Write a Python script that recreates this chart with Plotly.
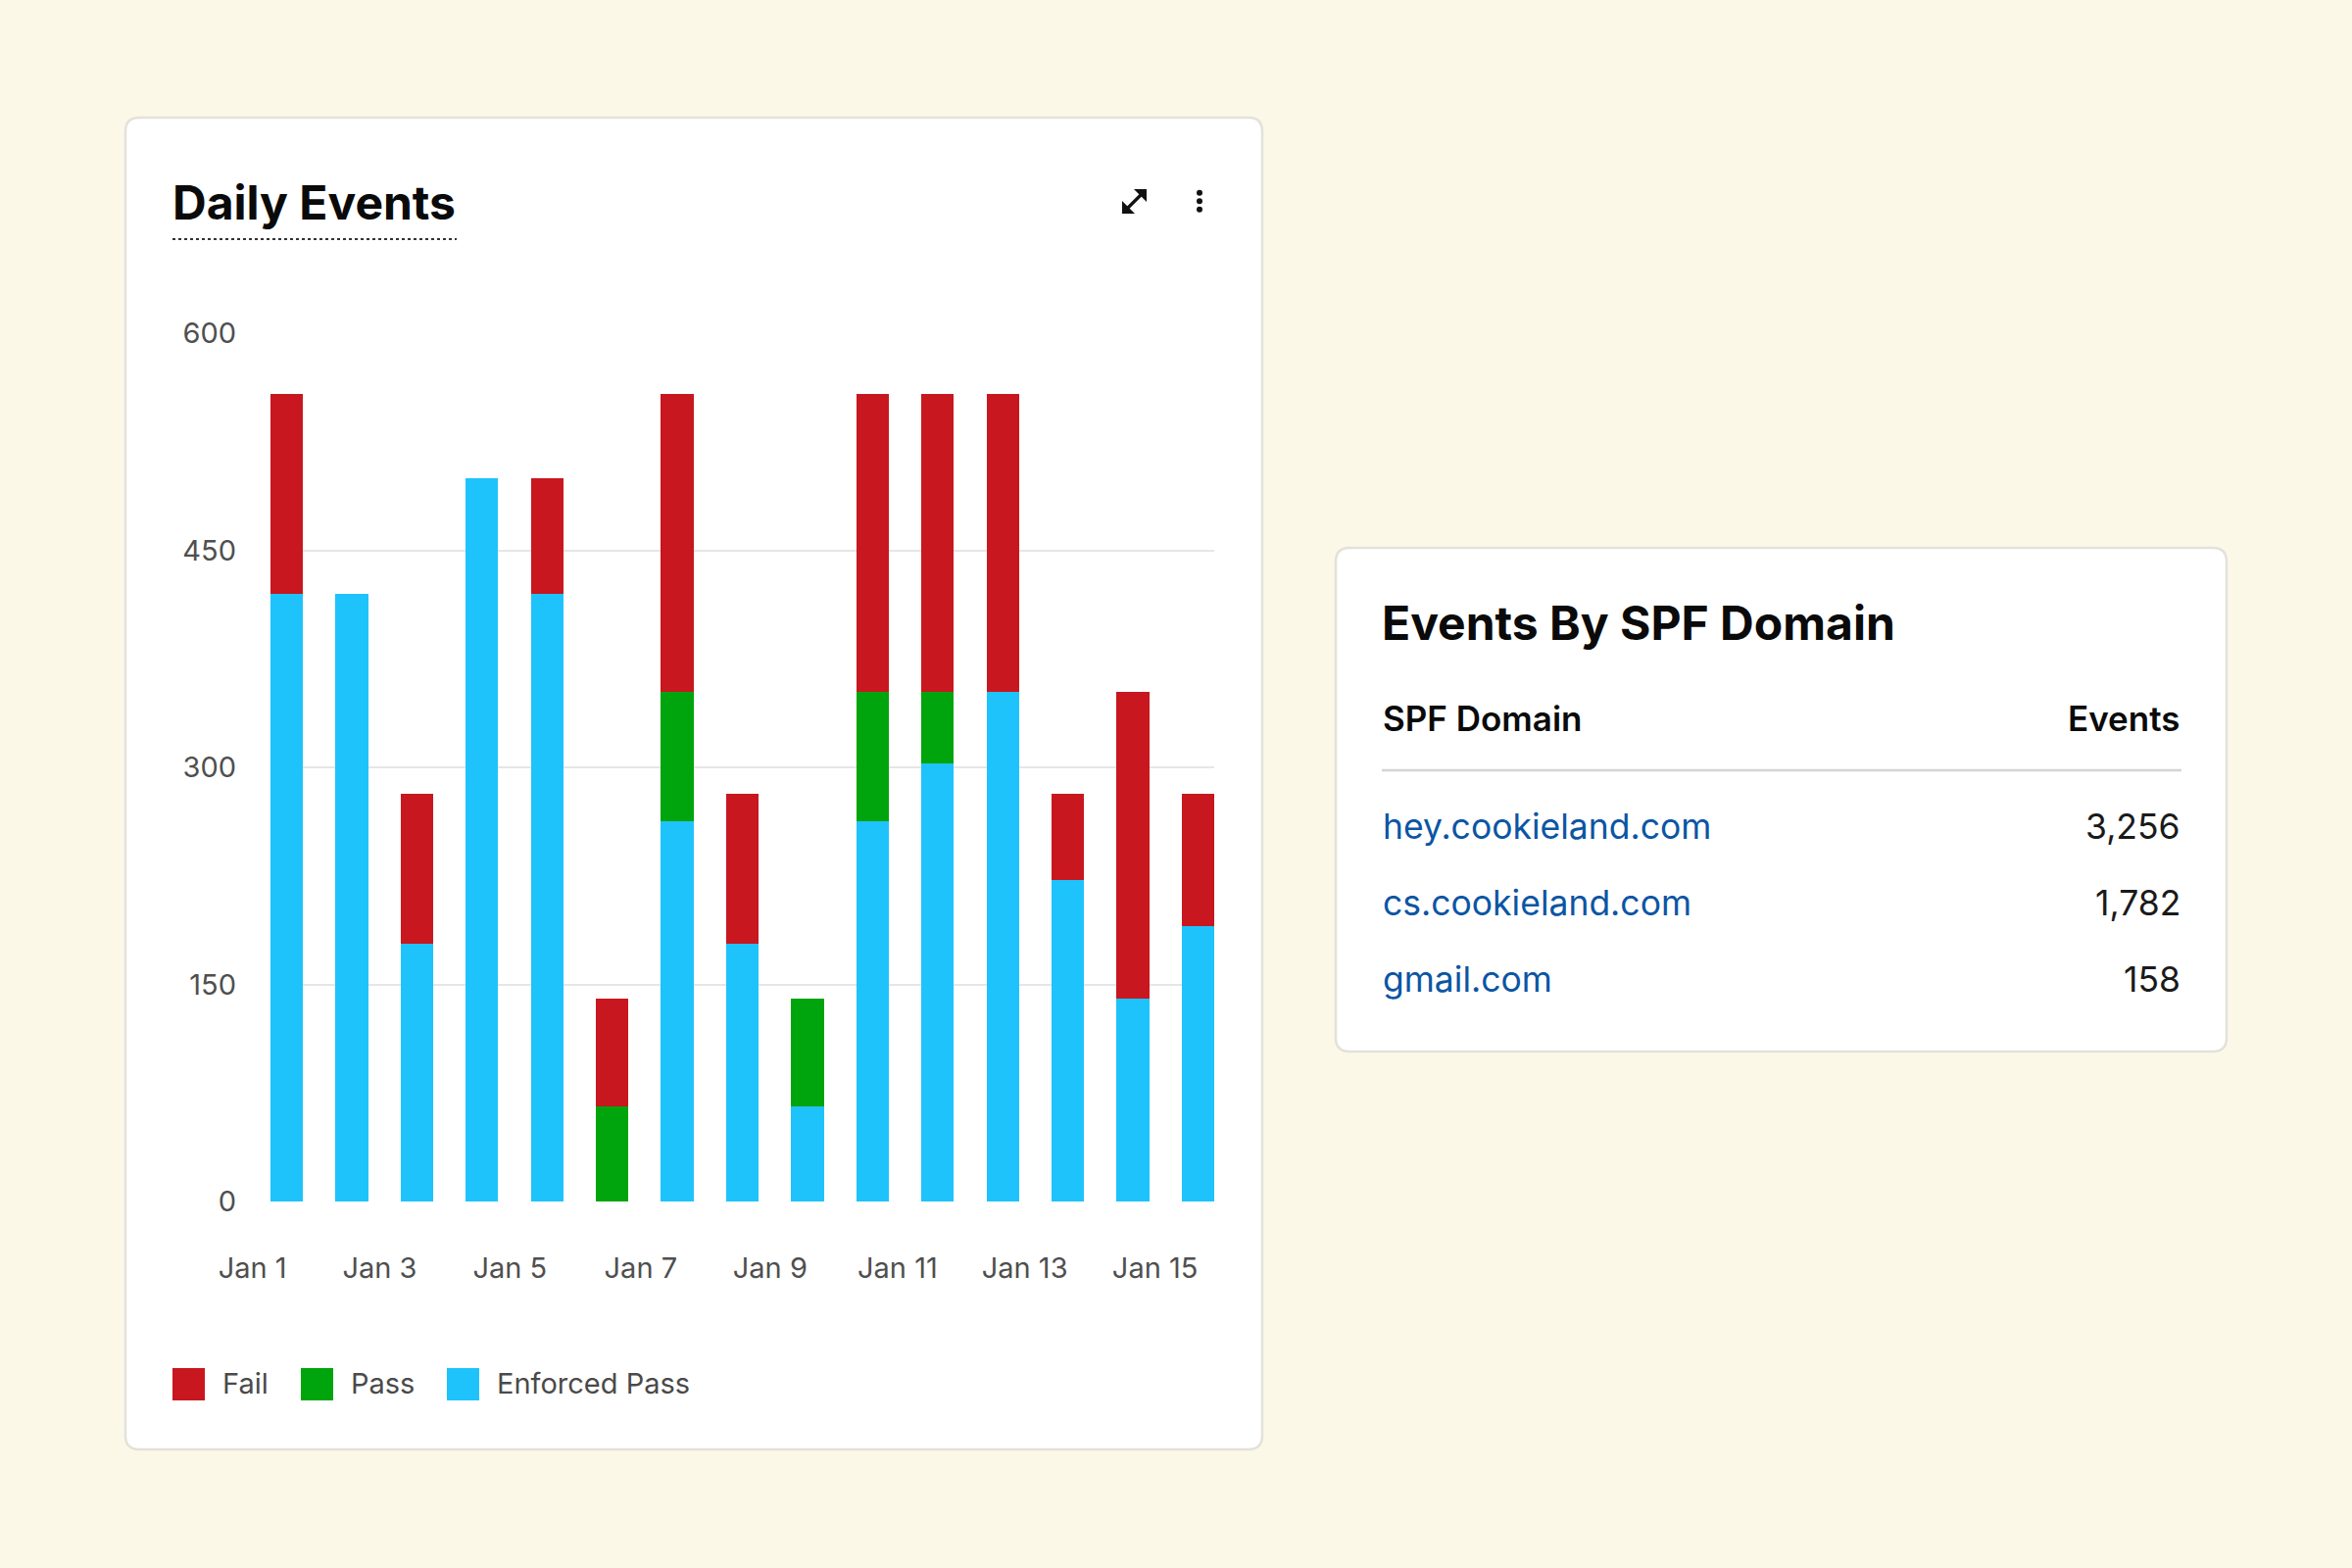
import plotly.graph_objects as go

W, H = 2400, 1600

# ---------------- data ----------------
days = ["Jan 1", "Jan 2", "Jan 3", "Jan 4", "Jan 5", "Jan 6", "Jan 7", "Jan 8",
        "Jan 9", "Jan 10", "Jan 11", "Jan 12", "Jan 13", "Jan 14", "Jan 15"]
enforced_pass = [420, 420, 178, 500, 420, 0, 263, 178, 66, 263, 303, 352, 222, 140, 190]
pass_vals = [0, 0, 0, 0, 0, 66, 89, 0, 74, 89, 49, 0, 0, 0, 0]
fail_vals = [138, 0, 104, 0, 80, 74, 206, 104, 0, 206, 206, 206, 60, 212, 92]
tick_days = ["Jan 1", "Jan 3", "Jan 5", "Jan 7", "Jan 9", "Jan 11", "Jan 13", "Jan 15"]
y_ticks = [0, 150, 300, 450, 600]

series_names = ["Fail", "Pass", "Enforced Pass"]

spf_domains = ["hey.cookieland.com", "cs.cookieland.com", "gmail.com"]
spf_events = [3256, 1782, 158]

# ---------------- style ----------------
BG = "#FCF8E7"
RED = "#C8171F"
GREEN = "#00A40C"
BLUE = "#1EC3FC"
LINK = "#0B55A4"
FONT = "Inter"


def X(px):
    return px / W


def Y(py):
    return 1 - py / H


def rrect(x0, y0, x1, y1, r):
    pts = [
        f"M {X(x0 + r)},{Y(y0)}",
        f"L {X(x1 - r)},{Y(y0)}",
        f"Q {X(x1)},{Y(y0)} {X(x1)},{Y(y0 + r)}",
        f"L {X(x1)},{Y(y1 - r)}",
        f"Q {X(x1)},{Y(y1)} {X(x1 - r)},{Y(y1)}",
        f"L {X(x0 + r)},{Y(y1)}",
        f"Q {X(x0)},{Y(y1)} {X(x0)},{Y(y1 - r)}",
        f"L {X(x0)},{Y(y0 + r)}",
        f"Q {X(x0)},{Y(y0)} {X(x0 + r)},{Y(y0)}",
        "Z",
    ]
    return " ".join(pts)


fig = go.Figure()

colors = {"Fail": RED, "Pass": GREEN, "Enforced Pass": BLUE}
for name, vals in [("Enforced Pass", enforced_pass), ("Pass", pass_vals), ("Fail", fail_vals)]:
    fig.add_trace(go.Bar(
        x=days, y=vals, name=name, marker=dict(color=colors[name], line=dict(width=0)),
        showlegend=False,
    ))

shapes = []
# cards
shapes.append(dict(type="path", xref="paper", yref="paper", layer="below",
                   path=rrect(128, 120, 1288, 1479, 14), fillcolor="white",
                   line=dict(color="#E3E1DA", width=2.5)))
shapes.append(dict(type="path", xref="paper", yref="paper", layer="below",
                   path=rrect(1363, 559, 2272, 1073, 14), fillcolor="white",
                   line=dict(color="#E3E1DA", width=2.5)))
# dotted underline under title
shapes.append(dict(type="line", xref="paper", yref="paper", x0=X(176), x1=X(466),
                   y0=Y(244), y1=Y(244), line=dict(color="#333333", width=2, dash="dot")))
# expand icon
shapes.append(dict(type="line", xref="paper", yref="paper", x0=X(1150), y0=Y(213),
                   x1=X(1165), y1=Y(198), line=dict(color="#111111", width=3.2)))
shapes.append(dict(type="path", xref="paper", yref="paper",
                   path=f"M {X(1170)},{Y(193)} L {X(1157)},{Y(193)} L {X(1170)},{Y(206)} Z",
                   fillcolor="#111111", line=dict(width=0)))
shapes.append(dict(type="path", xref="paper", yref="paper",
                   path=f"M {X(1145)},{Y(218)} L {X(1158)},{Y(218)} L {X(1145)},{Y(205)} Z",
                   fillcolor="#111111", line=dict(width=0)))
# kebab icon
for cy in (196.7, 205.2, 213.7):
    shapes.append(dict(type="circle", xref="paper", yref="paper",
                       x0=X(1221), x1=X(1227), y0=Y(cy - 3), y1=Y(cy + 3),
                       fillcolor="#111111", line=dict(width=0)))
# table separator
shapes.append(dict(type="line", xref="paper", yref="paper", x0=X(1410), x1=X(2226),
                   y0=Y(786), y1=Y(786), line=dict(color="#D4D4D4", width=2.5)))

annotations = []
annotations.append(dict(text="Daily Events", x=X(174), y=Y(206), xref="paper", yref="paper",
                        xanchor="left", yanchor="middle", showarrow=False,
                        font=dict(family=FONT, size=48, color="#0a0a0a", weight=700)))

# manual legend
legend_items = [("Fail", RED, 176), ("Pass", GREEN, 307), ("Enforced Pass", BLUE, 456)]
for name, col, lx in legend_items:
    shapes.append(dict(type="rect", xref="paper", yref="paper", x0=X(lx), x1=X(lx + 33),
                       y0=Y(1396), y1=Y(1429), fillcolor=col, line=dict(width=0)))
    annotations.append(dict(text=name, x=X(lx + 49), y=Y(1411), xref="paper", yref="paper",
                            xanchor="left", yanchor="middle", showarrow=False,
                            font=dict(family=FONT, size=29, color="#4a4a4a")))

# table card
annotations.append(dict(text="Events By SPF Domain", x=X(1408), y=Y(635), xref="paper", yref="paper",
                        xanchor="left", yanchor="middle", showarrow=False,
                        font=dict(family=FONT, size=48, color="#0a0a0a", weight=700)))
annotations.append(dict(text="SPF Domain", x=X(1409), y=Y(733), xref="paper", yref="paper",
                        xanchor="left", yanchor="middle", showarrow=False,
                        font=dict(family=FONT, size=35, color="#0a0a0a", weight=600)))
annotations.append(dict(text="Events", x=X(2227), y=Y(733), xref="paper", yref="paper",
                        xanchor="right", yanchor="middle", showarrow=False,
                        font=dict(family=FONT, size=35, color="#0a0a0a", weight=600)))
row_y = [843, 921, 999]
for dom, ev, ry in zip(spf_domains, spf_events, row_y):
    annotations.append(dict(text=dom, x=X(1409), y=Y(ry), xref="paper", yref="paper",
                            xanchor="left", yanchor="middle", showarrow=False,
                            font=dict(family=FONT, size=35.5, color=LINK)))
    annotations.append(dict(text=f"{ev:,}", x=X(2227), y=Y(ry), xref="paper", yref="paper",
                            xanchor="right", yanchor="middle", showarrow=False,
                            font=dict(family=FONT, size=35.5, color="#1a1a1a")))

fig.update_layout(
    width=W, height=H,
    margin=dict(l=0, r=0, t=0, b=0, pad=0, autoexpand=False),
    paper_bgcolor=BG,
    plot_bgcolor="rgba(0,0,0,0)",
    barmode="stack",
    bargap=0.5,
    showlegend=False,
    shapes=shapes,
    annotations=annotations,
    font=dict(family=FONT, size=29, color="#555555"),
    xaxis=dict(
        domain=[X(276), X(1239)],
        type="category",
        range=[-0.25, 14.25],
        tickmode="array",
        tickvals=tick_days,
        ticktext=tick_days,
        ticklabelposition="outside left",
        showgrid=False, zeroline=False, showline=False, ticks="",
        ticklabelstandoff=48,
        automargin=False,
        tickfont=dict(family=FONT, size=29, color="#4f4f4f"),
    ),
    yaxis=dict(
        domain=[Y(1226), Y(340)],
        range=[0, 600],
        tickvals=y_ticks,
        showgrid=True, gridcolor="#E6E6E6", gridwidth=2,
        zeroline=False, showline=False, ticks="",
        ticklabelstandoff=34,
        automargin=False,
        tickfont=dict(family=FONT, size=29, color="#4f4f4f"),
    ),
)

fig.write_html(
    "out.html",
    config={"displayModeBar": False},
    post_script="document.body.style.margin='0';document.body.style.overflow='hidden';",
)
